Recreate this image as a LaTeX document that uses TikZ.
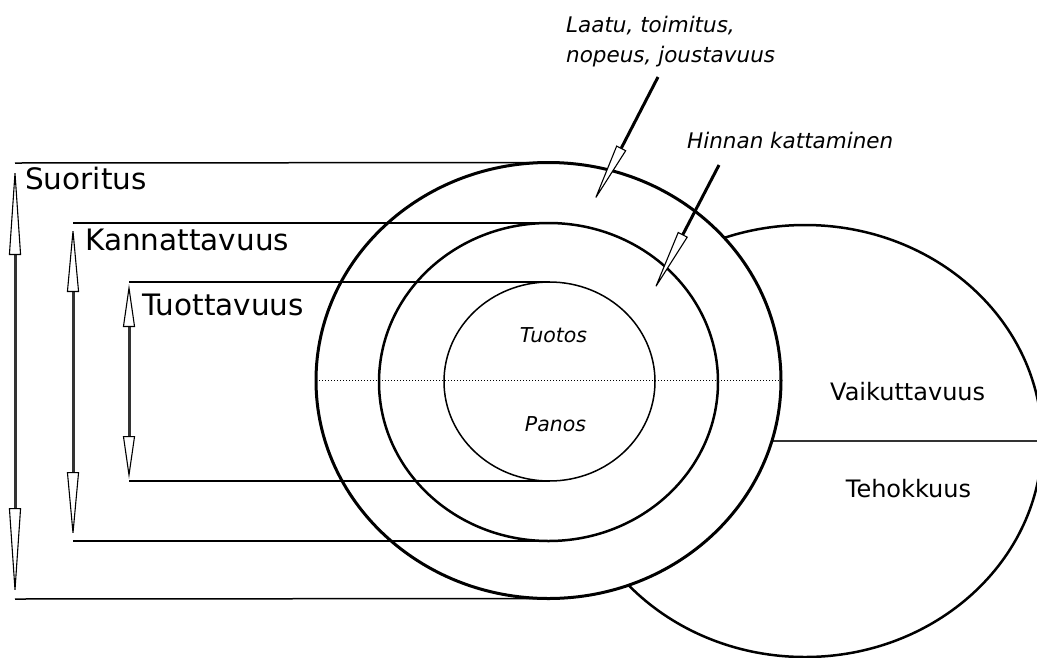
\documentclass[tikz,border=0pt]{standalone}
\usepackage{fontspec}
\setmainfont{DejaVu Sans}
\usetikzlibrary{arrows.meta,shapes.geometric}
\tikzset{
  ring/.style={ellipse, draw=black, inner sep=0pt, outer sep=0pt},
  guide/.style={line width=1.5pt, draw=black},
  dimarrow/.style={line width=3pt, draw=black!80,
    arrows={Triangle[color=black, fill=white, line width=1.1pt, length=#1, width=12pt]-Triangle[color=black, fill=white, line width=1.1pt, length=#1, width=12pt]}},
  pointer/.style={line width=3pt, draw=black,
    arrows={-Triangle[color=black, fill=white, line width=1.1pt, length=#1, width=11pt]}},
  biglabel/.style={font=\fontsize{29.5}{34}\selectfont, inner sep=0pt, anchor=base west},
  sidelabel/.style={font=\fontsize{24}{28}\selectfont, inner sep=0pt},
  notelabel/.style={font=\itshape\fontsize{21.5}{30}\selectfont, inner sep=0pt},
  innerlabel/.style={font=\itshape\fontsize{20.5}{24}\selectfont, inner sep=0pt, anchor=base},
}
\begin{document}
\begin{tikzpicture}[x=1pt,y=-1pt]
\useasboundingbox[fill=white] (0,0) rectangle (1037,657);
\begin{scope}
\clip (0,0) rectangle (1037,657);
% effectiveness ellipse (behind)
\node[ring, line width=2.5pt, minimum width=474pt, minimum height=432pt] (eff) at (805,441) {};
\draw[line width=2pt, draw=black!80] (eff.west) -- (eff.east);
\end{scope}
% performance rings
\node[ring, fill=white, line width=3pt, minimum width=465pt, minimum height=436pt] (perf) at (548.5,380.5) {};
\node[ring, line width=2.5pt, minimum width=339pt, minimum height=318pt] (prof) at (548.5,382) {};
\node[ring, line width=1.5pt, minimum width=211pt, minimum height=199pt] (prod) at (549.5,381.5) {};
\draw[dotted, line width=1pt] (perf.west) -- (perf.east);

% guide lines
\coordinate (s1) at (15,163);
\coordinate (s2) at (15,599);
\coordinate (k1) at (73,223);
\coordinate (k2) at (73,541);
\coordinate (t1) at (129,282);
\coordinate (t2) at (129,481);
\draw[guide] (s1) -- (perf.north);
\draw[guide] (s2) -- (perf.south);
\draw[guide] (k1) -- (prof.north);
\draw[guide] (k2) -- (prof.south);
\draw[guide] (t1) -- (prod.north);
\draw[guide] (t2) -- (prod.south);

% dimension arrows
\coordinate (sa1) at (15,165);
\coordinate (sa2) at (15,598);
\coordinate (ka1) at (73,225);
\coordinate (ka2) at (73,539);
\coordinate (ta1) at (129,284);
\coordinate (ta2) at (129,479);
\draw[dimarrow=90pt] (sa1) -- (sa2);
\draw[dimarrow=67pt] (ka1) -- (ka2);
\draw[dimarrow=43pt] (ta1) -- (ta2);

% labels
\node[biglabel] (lsu) at (25,189) {Suoritus};
\node[biglabel] (lka) at (85,250) {Kannattavuus};
\node[biglabel] (ltu) at (142,315) {Tuottavuus};
\node[sidelabel, anchor=base west] (lva) at (830,400) {Vaikuttavuus};
\node[sidelabel, anchor=base] (lte) at (908.5,497) {Tehokkuus};
\node[innerlabel] (ltuo) at (553.5,342) {Tuotos};
\node[innerlabel] (lpa) at (555.5,431) {Panos};
\node[notelabel, anchor=base west] (lhi) at (687,148) {Hinnan kattaminen};
\node[notelabel, anchor=north west, align=left] (lla) at (566,16) {Laatu, toimitus,\\nopeus, joustavuus};

% pointers
\coordinate (p1s) at (658,77);
\coordinate (p1e) at (593,203);
\coordinate (p2s) at (719,165);
\coordinate (p2e) at (653,292);
\draw[pointer=62pt] (p1s) -- (p1e);
\draw[pointer=65pt] (p2s) -- (p2e);
\end{tikzpicture}
\end{document}
